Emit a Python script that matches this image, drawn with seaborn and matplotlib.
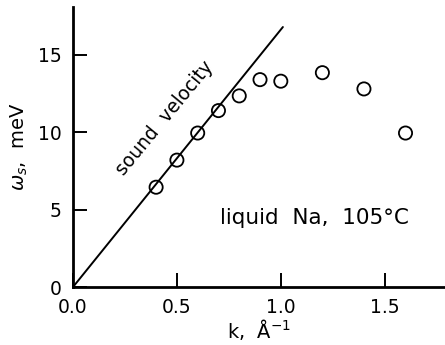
import numpy as np
import pandas as pd
import seaborn as sns
import matplotlib.pyplot as plt

# measured dispersion, liquid Na at 105 C
k_vals = [0.4, 0.5, 0.6, 0.7, 0.8, 0.9, 1.0, 1.2, 1.4, 1.6]
omega_vals = [6.45, 8.2, 9.95, 11.4, 12.35, 13.4, 13.3, 13.85, 12.8, 9.95]

# sound velocity line (omega = c*k)
line_k = [0.0, 1.01]
line_omega = [0.0, 16.8]

sns.set_style("ticks")
plt.rcParams['font.family'] = ['DejaVu Sans']
plt.rcParams['mathtext.fontset'] = 'dejavusans'
plt.rcParams['text.color'] = 'black'
plt.rcParams['axes.labelcolor'] = 'black'

fig = plt.figure(figsize=(4.45, 3.45), dpi=100)
ax = fig.add_axes([0.164, 0.168, 0.836, 0.812])

df_pts = pd.DataFrame({"k": k_vals, "omega": omega_vals})
df_line = pd.DataFrame({"k": line_k, "omega": line_omega})

sns.lineplot(data=df_line, x="k", y="omega", color="black", lw=1.4, ax=ax)
sns.scatterplot(data=df_pts, x="k", y="omega", marker="o", s=90,
                facecolor="none", edgecolor="black", linewidth=1.3, ax=ax, zorder=3)

ax.set_xlim(0, 1.79)
ax.set_ylim(0, 18.1)
ax.set_xticks([0.0, 0.5, 1.0, 1.5])
ax.set_xticklabels(["0.0", "0.5", "1.0", "1.5"])
ax.set_yticks([0, 5, 10, 15])

for side in ["top", "right"]:
    ax.spines[side].set_visible(False)
for side in ["left", "bottom"]:
    ax.spines[side].set_linewidth(2.0)
    ax.spines[side].set_color("black")

ax.tick_params(direction="in", length=10, width=1.4, labelsize=13.5, pad=8, colors="black")

ax.set_xlabel("k,  Å$^{-1}$", fontsize=14, labelpad=0, color="black")
ax.set_ylabel(r"$\omega_s$,  meV", fontsize=14, labelpad=6, color="black")

ax.text(0.44, 10.9, "sound  velocity", rotation=50.5, fontsize=13.5,
        ha="center", va="center", rotation_mode="anchor", color="black")
ax.text(0.705, 4.45, "liquid  Na,  105°C", fontsize=15.5, ha="left", va="center",
        color="black")

plt.savefig("out.png", dpi=100)
